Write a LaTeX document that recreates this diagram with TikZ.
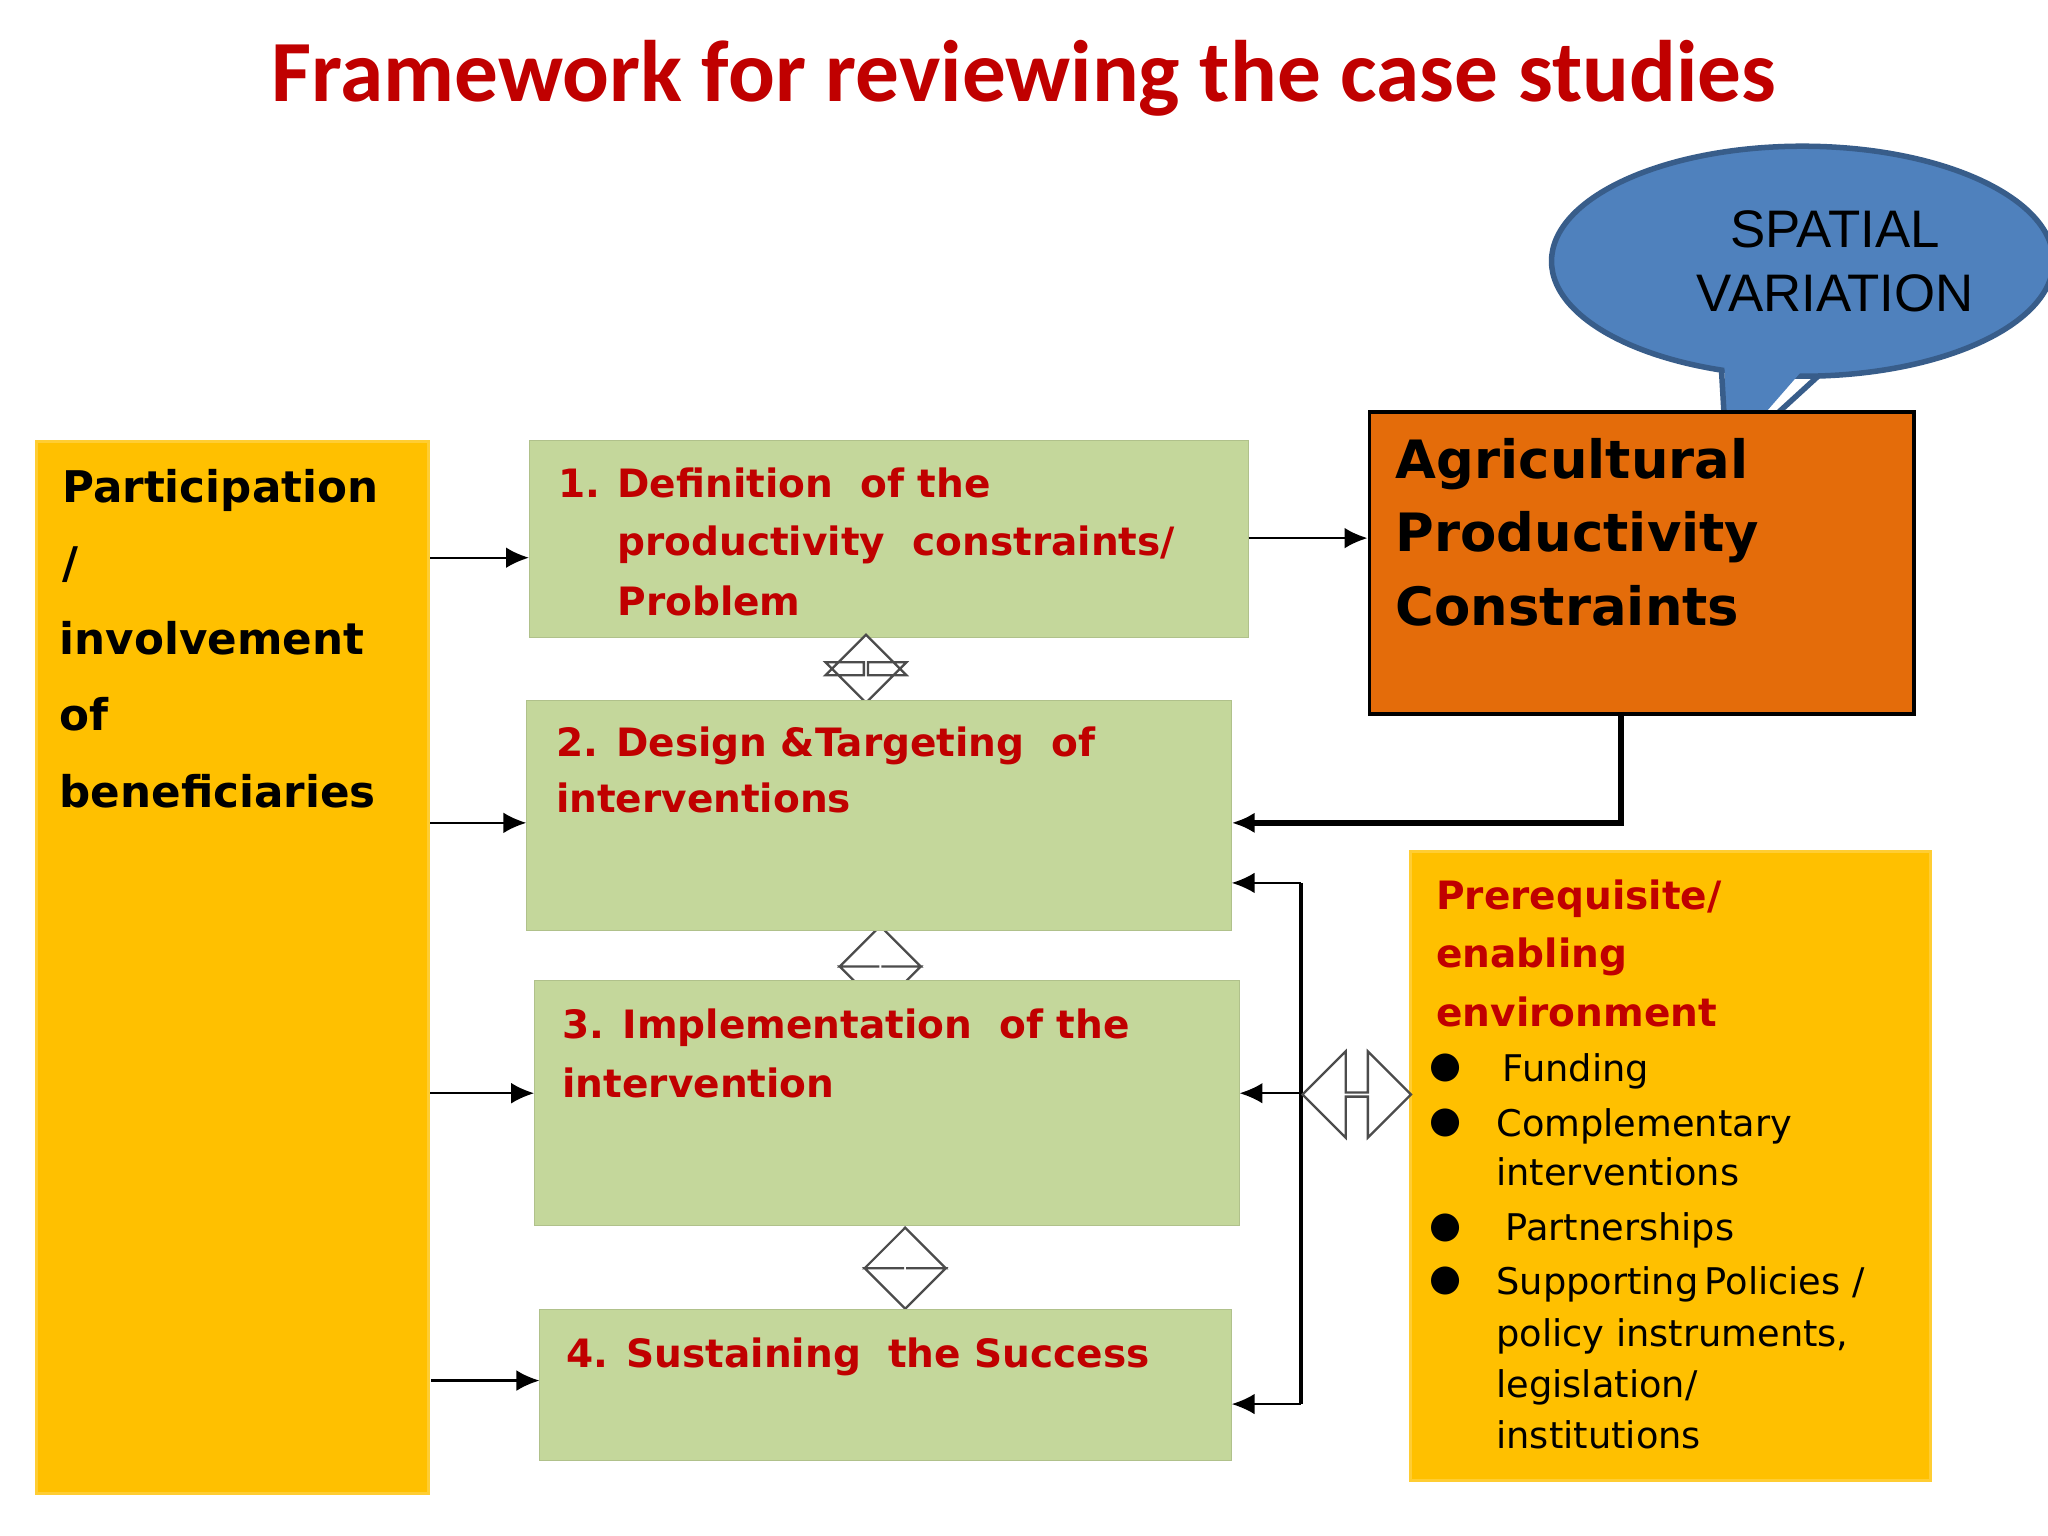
\documentclass[tikz,border=0pt]{standalone}
\usepackage{fontspec}
\setmainfont{DejaVu Sans}
\newfontfamily\titlefont{Carlito}
\newfontfamily\arialfont{Liberation Sans}
\usetikzlibrary{arrows.meta,shapes.arrows,shapes.geometric}
\definecolor{dred}{HTML}{C00000}
\definecolor{gfill}{HTML}{C4D79B}
\definecolor{yfill}{HTML}{FFC000}
\definecolor{ofill}{HTML}{E46C0A}
\definecolor{bfill}{HTML}{4F81BD}
\definecolor{bline}{HTML}{385D8A}
\tikzset{
 gbox/.style={fill=gfill,draw=gfill!90!black,line width=0.2pt,anchor=north west,inner sep=0pt},
 ybox/.style={fill=yfill,draw=yfill!80!white,line width=0.6pt,anchor=north west,inner sep=0pt},
 gtxt/.style={anchor=base west,inner sep=0pt,text=dred,font=\fontsize{8.5}{10}\selectfont\bfseries},
 ltxt/.style={anchor=base west,inner sep=0pt,font=\fontsize{9.5}{11}\selectfont\bfseries},
 otxt/.style={anchor=base west,inner sep=0pt,font=\fontsize{11.5}{13}\selectfont\bfseries},
 btxt/.style={anchor=base west,inner sep=0pt,font=\fontsize{8}{10}\selectfont},
 arr/.style={-{Latex[length=5pt,width=4.5pt]},line width=0.5pt},
 harrow/.style={double arrow,draw=black!70,fill=white,line width=0.5pt,inner sep=0pt,double arrow head extend=0.1cm},
}
\begin{document}
\begin{tikzpicture}[x=0.01cm,y=-0.01cm]
\useasboundingbox[fill=white] (0,0) rectangle (1568,1176);
\node[font=\titlefont\fontsize{19}{22}\selectfont\bfseries,text=dred,inner sep=0pt] (title) at (784,60) {Framework for reviewing the case studies};
% callout
\node[ellipse,draw=bline,fill=bfill,line width=1.2pt,minimum width=3.84cm,minimum height=1.76cm,inner sep=0pt] (ell) at (1380,200) {};
\fill[bfill] (1320,270) -- (1322,350) -- (1390,272) -- cycle;
\draw[bline,line width=1.2pt,line join=miter] (1318,283) -- (1322,352) -- (1392,288);
\node[font=\arialfont\fontsize{11.5}{14}\selectfont,align=center,inner sep=0pt] (sv) at (1405,200) {SPATIAL\\VARIATION};
% boxes
\node[ybox,minimum width=3cm,minimum height=8.05cm] (lb) at (27,337) {};
\node[gbox,minimum width=5.5cm,minimum height=1.51cm] (b1) at (405,337) {};
% vertical double arrows (behind boxes)
\node[harrow,shape border rotate=90,minimum width=0.62cm,minimum height=0.52cm,double arrow head extend=0.16cm] (d1) at (663,512) {};
\node[harrow,shape border rotate=90,minimum width=0.62cm,minimum height=0.62cm,double arrow head extend=0.16cm] (d2) at (674,740) {};
\node[harrow,shape border rotate=90,minimum width=0.62cm,minimum height=0.62cm,double arrow head extend=0.16cm] (d3) at (693,971) {};
\node[gbox,minimum width=5.39cm,minimum height=1.76cm] (b2) at (403,536) {};
\node[gbox,minimum width=5.39cm,minimum height=1.88cm] (b3) at (409,750) {};
\node[gbox,minimum width=5.29cm,minimum height=1.16cm] (b4) at (413,1002) {};
\node[fill=ofill,draw=black,line width=0.8pt,anchor=north west,inner sep=0pt,minimum width=4.17cm,minimum height=2.31cm] (ob) at (1047,314) {};
\node[ybox,minimum width=3.98cm,minimum height=4.81cm] (yb) at (1079,651) {};
% texts left
\node[ltxt] (l1) at (47,385) {Participation};
\node[ltxt] (l2) at (47,443) {/};
\node[ltxt] (l3) at (45,501) {involvement};
\node[ltxt] (l4) at (45,559) {of};
\node[ltxt] (l5) at (45,618) {beneficiaries};
% box texts
\node[gtxt] (t1a) at (427,381) {1.};
\node[gtxt] (t1b) at (472,381) {Definition\ \ of the};
\node[gtxt] (t1c) at (472,425) {productivity\ \ constraints/};
\node[gtxt] (t1d) at (472,471) {Problem};
\node[gtxt] (t2a) at (425,579) {2. Design \&Targeting\ \ of};
\node[gtxt] (t2b) at (425,622) {interventions};
\node[gtxt] (t3a) at (430,795) {3. Implementation\ \ of the};
\node[gtxt] (t3b) at (430,840) {intervention};
\node[gtxt] (t4a) at (433,1047) {4. Sustaining\ \ the Success};
% orange text
\node[otxt] (o1) at (1068,366) {Agricultural};
\node[otxt] (o2) at (1068,422) {Productivity};
\node[otxt] (o3) at (1068,479) {Constraints};
% yellow box text
\node[gtxt] (y1) at (1099,696) {Prerequisite/};
\node[gtxt] (y2) at (1099,741) {enabling};
\node[gtxt] (y3) at (1099,786) {environment};
\foreach \n/\yy in {p1/818,p2/860,p3/940,p4/981}{\node[inner sep=0pt,font=\fontsize{8}{10}\selectfont] (\n) at (1107,\yy) {●};}
\node[btxt] (y4) at (1150,828) {Funding};
\node[btxt] (y5) at (1145,870) {Complementary};
\node[btxt] (y6) at (1145,908) {interventions};
\node[btxt] (y7) at (1152,950) {Partnerships};
\node[btxt] (y8) at (1145,991) {Supporting\,Policies /};
\node[btxt] (y9) at (1145,1031) {policy instruments,};
\node[btxt] (y10) at (1145,1070) {legislation/};
\node[btxt] (y11) at (1145,1109) {institutions};
% arrows
\draw[arr] (lb.east |- 0,427) -- (b1.west |- 0,427);
\draw[arr] (lb.east |- 0,630) -- (b2.west |- 0,630);
\draw[arr] (lb.east |- 0,837) -- (b3.west |- 0,837);
\draw[arr] (330,1057) -- (b4.west |- 0,1057);
\draw[arr] (b1.east |- 0,412) -- (ob.west |- 0,412);
\draw[arr,line width=1.2pt] (1241,545) |- (b2.east |- 0,630);
\coordinate (vt) at (996,676);
\coordinate (vb) at (996,1075);
\draw[line width=0.7pt] (vt) -- (vb);
\draw[arr] (vt) -- (b2.east |- vt);
\draw[arr] (996,837) -- (b3.east |- 0,837);
\draw[arr] (vb) -- (b4.east |- vb);
\node[harrow,minimum width=0.66cm,minimum height=0.83cm,double arrow head extend=0.17cm,anchor=west] (hd) at (996,838) {};
\end{tikzpicture}
\end{document}
